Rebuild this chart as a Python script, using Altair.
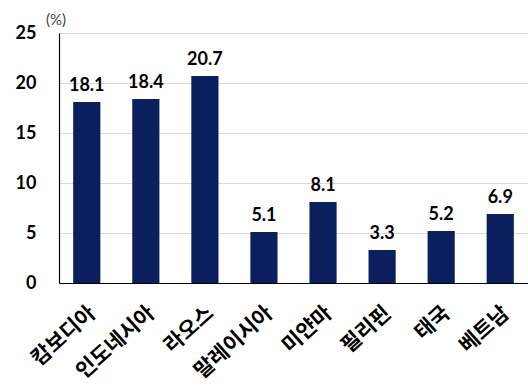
import altair as alt
import pandas as pd

countries = ["캄보디아", "인도네시아", "라오스", "말레이시아", "미얀마", "필리핀", "태국", "베트남"]
values = [18.1, 18.4, 20.7, 5.1, 8.1, 3.3, 5.2, 6.9]
y_ticks = [0, 5, 10, 15, 20, 25]
unit_label = "(%)"

df = pd.DataFrame({"country": countries, "value": values})

NAVY = "#0b1f5e"
NUM_FONT = "Lato"
KR_FONT = "Noto Sans CJK KR"

x = alt.X(
    "country:N",
    sort=countries,
    scale=alt.Scale(paddingInner=0.54, paddingOuter=0.24),
    axis=alt.Axis(
        title=None,
        labelAngle=-42,
        labelAlign="right",
        labelBaseline="middle",
        labelFont=KR_FONT,
        labelFontWeight="bold",
        labelFontSize=21,
        labelColor="#000000",
        labelPadding=27,
        labelOffset=6,
        ticks=False,
        domainColor="#000000",
        domainWidth=1.2,
        grid=False,
    ),
)
y = alt.Y(
    "value:Q",
    scale=alt.Scale(domain=[0, 25], nice=False),
    axis=alt.Axis(
        title=None,
        values=y_ticks,
        labelFont=NUM_FONT,
        labelFontWeight="bold",
        labelFontSize=18,
        labelColor="#000000",
        labelPadding=23,
        ticks=False,
        domainColor="#000000",
        domainWidth=1.2,
        gridColor="#d9d9d9",
        gridWidth=1,
    ),
)

bars = alt.Chart(df).mark_bar(color=NAVY).encode(x=x, y=y)
text = alt.Chart(df).mark_text(
    baseline="bottom", dy=-7, font=NUM_FONT, fontWeight="bold", fontSize=18, color="#000000"
).encode(x=alt.X("country:N", sort=countries), y="value:Q", text=alt.Text("value:Q", format=".1f"))

unit = alt.Chart(pd.DataFrame({"t": [unit_label]})).mark_text(
    align="left", baseline="middle", font=NUM_FONT, fontSize=15, color="#404040"
).encode(x=alt.value(-13), y=alt.value(-13), text="t:N")

chart = (
    alt.layer(bars, text, unit)
    .properties(
        width=469,
        height=250,
        autosize=alt.AutoSizeParams(type="none"),
        padding={"left": 59, "top": 33, "right": 0, "bottom": 108},
    )
    .configure_view(stroke=None)
    .configure(background="#ffffff")
)

chart.save("out.html", embed_options={"renderer": "svg", "actions": False})
